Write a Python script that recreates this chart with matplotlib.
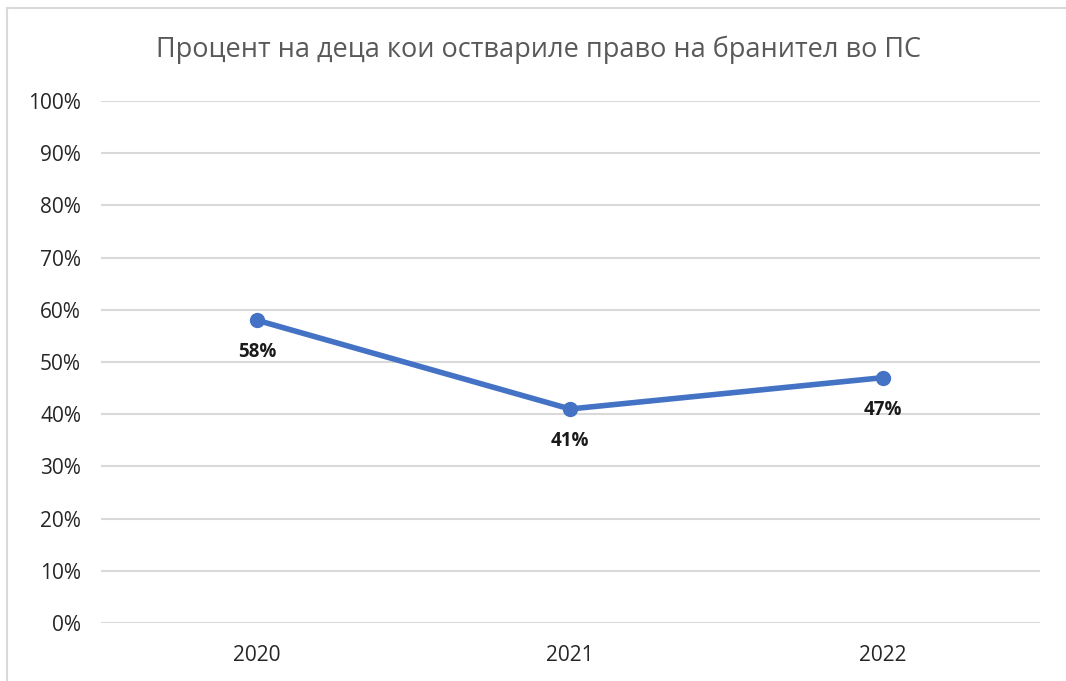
import matplotlib
matplotlib.use("Agg")
import matplotlib.pyplot as plt
from matplotlib.lines import Line2D

years = ["2020", "2021", "2022"]
values = [0.58, 0.41, 0.47]
yticks = [0.0, 0.1, 0.2, 0.3, 0.4, 0.5, 0.6, 0.7, 0.8, 0.9, 1.0]
title = "Процент на деца кои оствариле право на бранител во ПС"

plt.rcParams['font.family'] = ['Open Sans', 'DejaVu Sans']

W, H = 1066, 681
fig = plt.figure(figsize=(W/100, H/100), dpi=100)
fig.patch.set_facecolor("white")

# border of chart area (top & left visible in reference)
fig.add_artist(Line2D([7/W, 7/W], [0, 1-8/H], transform=fig.transFigure, color="#d9d9d9", lw=1.5))
fig.add_artist(Line2D([7/W, 1], [1-8/H, 1-8/H], transform=fig.transFigure, color="#d9d9d9", lw=1.5))

left, right = 100.5/W, 1039.5/W
bottom, top = 1-623/H, 1-101/H
ax = fig.add_axes([left, bottom, right-left, top-bottom])

x = list(range(len(years)))
ax.plot(x, values, color="#4472C4", lw=4, marker="o", markersize=10, solid_capstyle="round", zorder=3)

for xi, v in zip(x, values):
    ax.annotate(f"{round(v*100)}%", (xi, v), xytext=(0, -32), textcoords="offset pixels",
                ha="center", va="center", fontsize=13.5, fontweight="bold", color="#1a1a1a")

ax.set_xlim(-0.5, len(years)-0.5)
ax.set_ylim(0, 1.0)
ax.set_yticks(yticks)
ax.set_yticklabels([f"{int(round(t*100))}%" for t in yticks])
ax.set_xticks(x)
ax.set_xticklabels(years)
ax.grid(axis="y", color="#d9d9d9", lw=1.5)
ax.set_axisbelow(True)
for s in ax.spines.values():
    s.set_visible(False)
ax.tick_params(axis="both", length=0, labelsize=15, colors="#404040", labelcolor="#262626")
ax.tick_params(axis="y", pad=14)
ax.tick_params(axis="x", pad=16)

fig.text(538/W, 1-50/H, title, ha="center", va="center", fontsize=19.5, color="#595959")

fig.savefig("out.png", dpi=100)
